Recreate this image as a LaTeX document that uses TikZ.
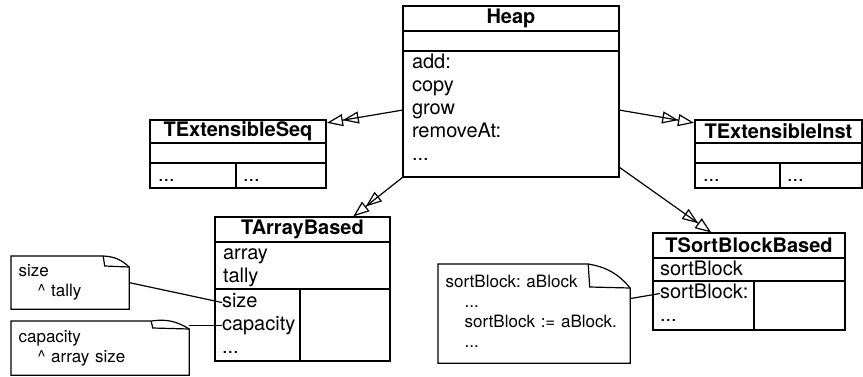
\documentclass[tikz,border=0pt]{standalone}
\usepackage{fontspec}
\setmainfont{TeX Gyre Heros}
\usetikzlibrary{positioning,arrows.meta}
\frenchspacing

% note outline with a turned corner: node, fold width, fold height
\newcommand{\dogear}[3]{%
  \draw (#1.north west) -- ([xshift=-#2]#1.north east) to[bend left=20] ([yshift=-#3]#1.north east) -- (#1.south east) -- (#1.south west) -- cycle;
  \draw ([xshift=-#2]#1.north east) -- ([xshift=-#2+1.5pt,yshift=-#3+1pt]#1.north east) -- ([yshift=-#3]#1.north east);
}

\begin{document}
\begin{tikzpicture}[x=1pt,y=-1pt,line width=1.2pt,
  every node/.style={font=\fontsize{20}{23}\selectfont},
  cls title/.style={draw,inner sep=0pt,outer sep=0pt,font=\bfseries\fontsize{20}{23}\selectfont},
  compart/.style={draw,inner sep=0pt,outer sep=0pt},
  rows/.style={anchor=north west,inner sep=0pt,outer sep=0pt,align=left},
  note/.style={anchor=north west,inner xsep=7pt,inner ysep=0pt,align=left,font=\fontsize{17}{20}\selectfont},
  inherit/.style={-{Triangle[open,length=16pt,width=12pt,sep=0pt]Triangle[open,length=16pt,width=12pt]},shorten >=1pt}]

\useasboundingbox (0,0) rectangle (863,376);

% Heap
\node[cls title,minimum width=216pt,minimum height=25pt] (heap) at (511,18.5) {Heap};
\node[compart,minimum width=216pt,minimum height=20pt,below=0pt of heap] (heapattr) {};
\node[compart,minimum width=216pt,minimum height=126pt,below=0pt of heapattr] (heapops) {};
\node[rows] (heapmeth) at ([xshift=9pt,yshift=-1pt]heapops.north west) {\strut add:\\copy\\grow\\removeAt:\\...\strut};

% TExtensibleSeq
\node[cls title,minimum width=176pt,minimum height=23pt] (seq) at (238,131.5) {TExtensibleSeq};
\node[compart,minimum width=176pt,minimum height=20pt,below=0pt of seq] (seqattr) {};
\node[compart,minimum width=86pt,minimum height=25pt,below=0pt of seqattr.south west,anchor=north west] (seqopsl) {};
\node[compart,minimum width=90pt,minimum height=25pt,right=0pt of seqopsl] (seqopsr) {};
\node[rows] (seqdotsl) at ([xshift=8pt,yshift=-2pt]seqopsl.north west) {\strut...};
\node[rows] (seqdotsr) at ([xshift=7pt,yshift=-2pt]seqopsr.north west) {\strut...};

% TExtensibleInst
\node[cls title,minimum width=167pt,minimum height=23pt] (inst) at (778.5,131.5) {TExtensibleInst};
\node[compart,minimum width=167pt,minimum height=20pt,below=0pt of inst] (instattr) {};
\node[compart,minimum width=85pt,minimum height=25pt,below=0pt of instattr.south west,anchor=north west] (instopsl) {};
\node[compart,minimum width=82pt,minimum height=25pt,right=0pt of instopsl] (instopsr) {};
\node[rows] (instdotsl) at ([xshift=8pt,yshift=-2pt]instopsl.north west) {\strut...};
\node[rows] (instdotsr) at ([xshift=7pt,yshift=-2pt]instopsr.north west) {\strut...};

% TArrayBased
\node[cls title,minimum width=175pt,minimum height=25pt] (abased) at (302.5,229.5) {TArrayBased};
\node[compart,minimum width=175pt,minimum height=47pt,below=0pt of abased] (abattr) {};
\node[rows] (abvars) at ([xshift=8pt,yshift=-1pt]abattr.north west) {\strut array\\tally\strut};
\node[compart,minimum width=85pt,minimum height=72pt,below=0pt of abattr.south west,anchor=north west] (abopsl) {};
\node[compart,minimum width=90pt,minimum height=72pt,right=0pt of abopsl] (abopsr) {};
\node[rows] (size) at ([xshift=7pt,yshift=-2pt]abopsl.north west) {\strut size};
\node[rows,below=0pt of size.south west,anchor=north west] (capacity) {\strut capacity};
\node[rows,below=0pt of capacity.south west,anchor=north west] (abdots) {\strut...};

% TSortBlockBased
\node[cls title,minimum width=192pt,minimum height=25pt] (sbased) at (749,245.5) {TSortBlockBased};
\node[compart,minimum width=192pt,minimum height=23pt,below=0pt of sbased] (sbattr) {};
\node[rows] (sbvar) at ([xshift=7pt,yshift=-1pt]sbattr.north west) {\strut sortBlock};
\node[compart,minimum width=101pt,minimum height=49pt,below=0pt of sbattr.south west,anchor=north west] (sbopsl) {};
\node[compart,minimum width=91pt,minimum height=49pt,right=0pt of sbopsl] (sbopsr) {};
\node[rows] (sbset) at ([xshift=7pt,yshift=-1pt]sbopsl.north west) {\strut sortBlock:};
\node[rows,below=0pt of sbset.south west,anchor=north west] (sbdots) {\strut...};

% notes
\node[note,minimum height=52pt,text width=103pt] (sizenote) at (11,256) {\strut size\\\hspace*{19pt}\textasciicircum{} tally\strut};
\node[note,minimum height=53pt,text width=163pt] (capnote) at (11,321) {\strut capacity\\\hspace*{19pt}\textasciicircum{} array size\strut};
\node[note,minimum height=98pt,text width=177pt] (sbnote) at (438,264) {\strut sortBlock: aBlock\\\hspace*{19pt}...\\\hspace*{19pt}sortBlock := aBlock.\\\hspace*{19pt}...\strut};
\dogear{sizenote}{26pt}{11pt}
\dogear{capnote}{38pt}{8pt}
\dogear{sbnote}{42pt}{24pt}

\draw (sizenote.east) -- (size.west);
\draw (capnote.east |- capacity.west) -- (capacity.west);
\draw ([yshift=15pt]sbnote.east) -- (sbset.west);

\draw[inherit] ([yshift=4pt]heapops.west) -- ([yshift=-3pt]seq.north east);
\draw[inherit] ([yshift=4pt]heapops.east) -- ([yshift=-3pt]inst.north west);
\draw[inherit] (heapops.south west) -- ([xshift=50pt]abased.north);
\draw[inherit] ([yshift=10pt]heapops.south east) -- ([xshift=-37pt]sbased.north);
\end{tikzpicture}
\end{document}
